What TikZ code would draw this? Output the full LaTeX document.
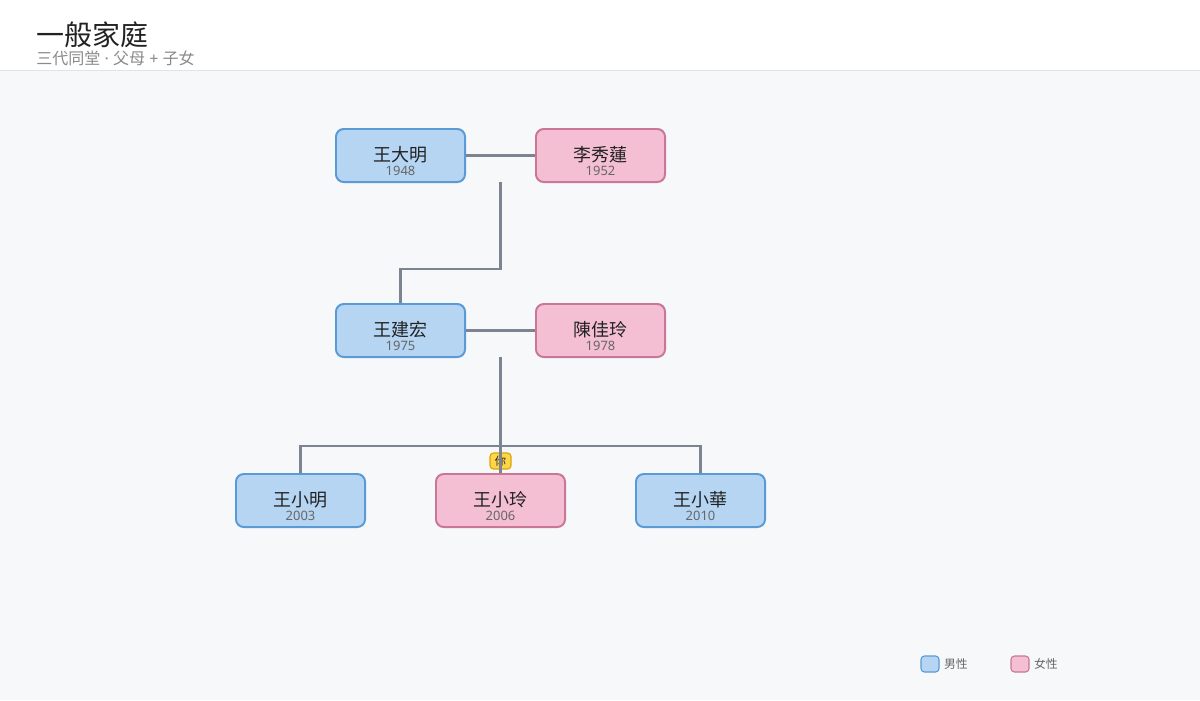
\documentclass[tikz,border=0pt]{standalone}
\usepackage{fontspec}
\setmainfont{Noto Sans CJK TC}
\newfontfamily\latinfont{Noto Sans}
\usetikzlibrary{positioning}

\definecolor{pagebg}{HTML}{F7F8FA}
\definecolor{headline}{HTML}{E1E3E6}
\definecolor{malefill}{HTML}{B5D5F3}
\definecolor{maledraw}{HTML}{5B9BD5}
\definecolor{femfill}{HTML}{F4BFD2}
\definecolor{femdraw}{HTML}{C87896}
\definecolor{linkgray}{HTML}{7B8490}
\definecolor{titlegray}{HTML}{222222}
\definecolor{subgray}{HTML}{8A8A8A}
\definecolor{yeargray}{HTML}{666666}
\definecolor{badgefill}{HTML}{FFD54A}
\definecolor{badgedraw}{HTML}{D9A800}

\newcommand{\person}[2]{\rule{0pt}{19pt}{\fontsize{12.8pt}{13pt}\selectfont #1}\\[-2pt]{\latinfont\fontsize{9.2pt}{9pt}\selectfont\color{yeargray}#2}}

\begin{document}
\begin{tikzpicture}[x=0.025cm,y=-0.025cm,
    member/.style={rounded corners=5.5pt, line width=1.4pt, minimum width=3.225cm,
        minimum height=1.325cm, align=center, inner sep=0pt, text=titlegray},
    male/.style={member, fill=malefill, draw=maledraw},
    female/.style={member, fill=femfill, draw=femdraw},
    link/.style={draw=linkgray, line width=1.7pt},
    badge/.style={fill=badgefill, draw=badgedraw, line width=0.8pt, rounded corners=2.5pt,
        minimum width=0.525cm, minimum height=0.4cm, inner sep=0pt,
        font=\fontsize{8pt}{8pt}\selectfont, text=titlegray},
    swatch/.style={rounded corners=2.5pt, line width=0.8pt, minimum width=0.45cm,
        minimum height=0.4cm, inner sep=0pt},
    legendtext/.style={anchor=west, inner sep=0pt, text=yeargray,
        font=\fontsize{8.4pt}{9pt}\selectfont}]

    \useasboundingbox (0,0) rectangle (1200,700);

    % background and header
    \fill[pagebg] (0,0) rectangle (1200,700);
    \fill[white] (0,0) rectangle (1200,70);
    \draw[headline, line width=0.7pt] (0,70) -- (1200,70);
    \node[anchor=west, inner sep=0pt, text=titlegray, font=\fontsize{19.9pt}{20pt}\selectfont]
        (title) at (36,35) {一般家庭};
    \node[anchor=west, inner sep=0pt, text=subgray, font=\fontsize{11.4pt}{11pt}\selectfont]
        (subtitle) at (36,58) {三代同堂{\latinfont\ ·\ }父母{\latinfont\ +\ }子女};

    % grandparents
    \node[male] (daming) at (400.5,155.5) {\person{王大明}{1948}};
    \node[female] (xiulian) at (600.5,155.5) {\person{李秀蓮}{1952}};

    % parents
    \node[male] (jianhong) at (400.5,330.5) {\person{王建宏}{1975}};
    \node[female] (jialing) at (600.5,330.5) {\person{陳佳玲}{1978}};

    % children
    \node[male] (xiaoming) at (300.5,500.5) {\person{王小明}{2003}};
    \node[female] (xiaoling) at (500.5,500.5) {\person{王小玲}{2006}};
    \node[male] (xiaohua) at (700.5,500.5) {\person{王小華}{2010}};

    % you marker
    \node[badge] (you) at (500.5,461) {你};

    % links
    \coordinate (top) at (500.5,182);
    \coordinate (mid) at (500.5,357);
    \draw[link] (daming) -- (xiulian);
    \draw[link] (top) |- (400.5,269) -- (jianhong.north);
    \draw[link] (jianhong) -- (jialing);
    \draw[link] (mid) -- (500.5,446) -- (xiaoling.north);
    \draw[link] (xiaoming.north) |- (500.5,446) -| (xiaohua.north);

    % legend
    \node[swatch, fill=malefill, draw=maledraw] (keymale) at (930,664) {};
    \node[legendtext, right=3pt of keymale.east, anchor=west] (keymaletext) {男性};
    \node[swatch, fill=femfill, draw=femdraw] (keyfemale) at (1020,664) {};
    \node[legendtext, right=3pt of keyfemale.east, anchor=west] (keyfemaletext) {女性};

\end{tikzpicture}
\end{document}
